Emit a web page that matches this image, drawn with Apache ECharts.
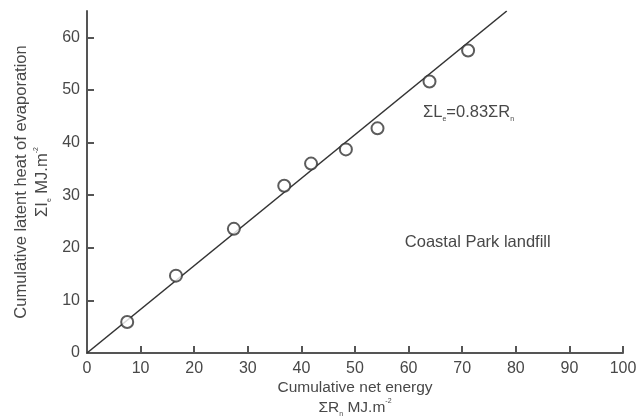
<!DOCTYPE html>
<html>
<head>
<meta charset="utf-8">
<script src="https://cdn.jsdelivr.net/npm/echarts@6/dist/echarts.min.js"></script>
<style>html,body{margin:0;padding:0;background:#fff;}#c{width:639px;height:420px;}</style>
</head>
<body>
<div id="c"></div>
<script>
// Data
var netEnergy = [7.5, 16.6, 27.4, 36.8, 41.8, 48.3, 54.2, 63.9, 71.1];   // ΣRn, MJ/m2
var latentHeat = [5.9, 14.7, 23.6, 31.8, 36.0, 38.7, 42.7, 51.6, 57.5];  // ΣLe, MJ/m2
var fitSlope = 0.83;
var xTicks = [0, 10, 20, 30, 40, 50, 60, 70, 80, 90, 100];
var yTicks = [0, 10, 20, 30, 40, 50, 60];
var xMin = 0, xMax = 100, yMin = 0, yMax = 65;
var fitLabel = '{b|ΣL}{bs|e}{b|=0.83ΣR}{bs|n}';
var siteLabel = 'Coastal Park landfill';

var points = netEnergy.map(function (x, i) { return [x, latentHeat[i]]; });
var fitLine = [[0, 0], [yMax / fitSlope, yMax]];

var txt = '#484848';
var axisCol = '#555';
var font = 'Liberation Sans, Arial, sans-serif';
function richFor(size) {
  return {
    n: { fontSize: size, color: txt, fontFamily: font, lineHeight: size + 4 },
    sub: { fontSize: 7, color: txt, fontFamily: font, verticalAlign: 'bottom', lineHeight: 8 },
    sup: { fontSize: 7, color: txt, fontFamily: font, verticalAlign: 'top', lineHeight: 8 },
    b: { fontSize: 16.5, color: txt, fontFamily: font, lineHeight: 20 },
    bs: { fontSize: 7, color: txt, fontFamily: font, verticalAlign: 'bottom', lineHeight: 8 }
  };
}

var chart = echarts.init(document.getElementById('c'));
chart.setOption({
  animation: false,
  backgroundColor: '#fff',
  textStyle: { fontFamily: font },
  grid: { left: 87, right: 16, top: 11, bottom: 67, containLabel: false, outerBoundsMode: 'none' },
  xAxis: {
    type: 'value', min: xMin, max: xMax, interval: 10,
    name: 'Cumulative net energy\n{n|ΣR}{sub|n}{n| MJ.m}{sup|-2}',
    nameLocation: 'middle', nameGap: 24, nameMoveOverlap: false,
    nameTextStyle: { fontSize: 15.5, color: txt, lineHeight: 21, fontFamily: font, rich: richFor(15.5) },
    axisLine: { show: true, lineStyle: { color: axisCol, width: 2 } },
    axisTick: { show: true, inside: true, length: 7, lineStyle: { color: axisCol, width: 2 }, customValues: xTicks },
    axisLabel: { fontSize: 16, color: txt, margin: 8, customValues: xTicks },
    splitLine: { show: false }
  },
  yAxis: {
    type: 'value', min: yMin, max: yMax, interval: 10,
    name: 'Cumulative latent heat of evaporation\n{n|ΣI}{sub|e}{n| MJ.m}{sup|-2}',
    nameLocation: 'middle', nameGap: 34, nameRotate: 90, nameMoveOverlap: false,
    nameTextStyle: { fontSize: 16.5, color: txt, lineHeight: 22, fontFamily: font, rich: richFor(16.5) },
    axisLine: { show: true, lineStyle: { color: axisCol, width: 2 } },
    axisTick: { show: true, inside: true, length: 7, lineStyle: { color: axisCol, width: 2 }, customValues: yTicks },
    axisLabel: { fontSize: 16, color: txt, margin: 7, customValues: yTicks },
    splitLine: { show: false }
  },
  series: [
    {
      type: 'line', data: fitLine, symbol: 'none',
      lineStyle: { color: '#333', width: 1.6 }, z: 2,
      markPoint: {
        symbol: 'circle', symbolSize: 0,
        data: [
          { coord: [62.7, 45.7], label: { show: true, position: 'right', distance: 0, formatter: fitLabel, rich: richFor(16.5) } },
          { coord: [59.3, 21.0], label: { show: true, position: 'right', distance: 0, formatter: siteLabel, fontSize: 16.5, color: txt, fontFamily: font } }
        ]
      }
    },
    {
      type: 'scatter', data: points, symbol: 'emptyCircle', symbolSize: 12,
      itemStyle: { color: '#333', borderColor: '#333', borderWidth: 1.5 }, z: 3
    }
  ]
});
</script>
</body>
</html>
